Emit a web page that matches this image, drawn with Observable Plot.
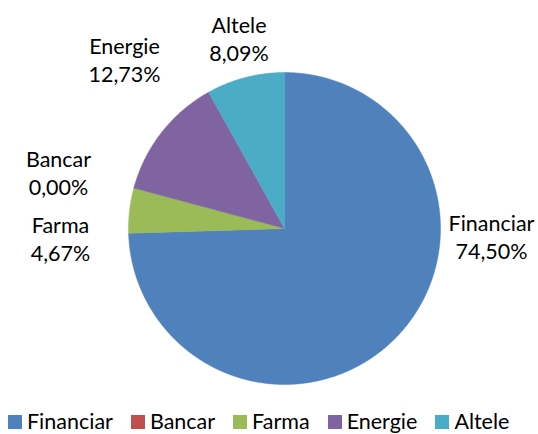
<!DOCTYPE html>
<html>
<head>
<meta charset="utf-8">
<script src="https://cdn.jsdelivr.net/npm/d3@7"></script>
<script src="https://cdn.jsdelivr.net/npm/@observablehq/plot@0.6"></script>
<style>
  html, body { margin: 0; padding: 0; background: #fff; }
  body { width: 538px; height: 434px; overflow: hidden; position: relative; font-family: Lato, "Open Sans", sans-serif; }
  #legend { position: absolute; left: 8px; top: 410px; display: flex; align-items: center; font-size: 21.5px; line-height: 22px; color: #000; white-space: nowrap; }
  .item { display: flex; align-items: center; margin-right: 18px; }
  .sw { width: 14px; height: 14px; margin-right: 5px; display: inline-block; position: relative; top: 1px; }
</style>
</head>
<body>
<div id="chart"></div>
<div id="legend"></div>
<script>
// ---- data ----
const categories = ["Financiar", "Bancar", "Farma", "Energie", "Altele"];
const shares = [74.50, 0.00, 4.67, 12.73, 8.09];
const shareLabels = ["74,50%", "0,00%", "4,67%", "12,73%", "8,09%"];
const colors = ["#4F81BD", "#C0504D", "#9BBB59", "#8064A2", "#4BACC6"];

// ---- layout (pixels) ----
const W = 538, H = 410, CX = 284, CY = 228, R = 156;
const labelPx = [[491, 211], [58, 147], [60, 213], [124, 34], [238.5, 13]];

// slice polygons derived from data through d3.pie (clockwise from 12 o'clock)
const pie = d3.pie().sort(null).value(d => d.v)(categories.map((c, i) => ({c, v: shares[i]})));
const pts = [];
pie.forEach(a => {
  if (a.endAngle - a.startAngle <= 0) return;
  const c = a.data.c;
  pts.push({c, x: 0, y: 0});
  const n = Math.max(2, Math.ceil((a.endAngle - a.startAngle) / 0.005));
  for (let k = 0; k <= n; k++) {
    const t = a.startAngle + (a.endAngle - a.startAngle) * k / n;
    pts.push({c, x: R * Math.sin(t), y: R * Math.cos(t)});
  }
  pts.push({c, x: 0, y: 0});
});

const labels = categories.map((c, i) => ({
  text: c + "\n" + shareLabels[i],
  x: labelPx[i][0] - CX,
  y: CY - labelPx[i][1]
}));

const chart = Plot.plot({
  width: W, height: H,
  margin: 0,
  x: {domain: [-CX, W - CX], range: [0, W], axis: null},
  y: {domain: [-(H - CY), CY], range: [H, 0], axis: null},
  color: {domain: categories, range: colors},
  style: {fontFamily: "Lato, 'Open Sans', sans-serif", background: "white"},
  marks: [
    Plot.line(pts, {x: "x", y: "y", z: "c", fill: "c", stroke: "c", strokeWidth: 0.5, curve: "linear"}),
    Plot.text(labels, {x: "x", y: "y", text: "text", fontSize: 21.5, lineAnchor: "top", lineHeight: 1.28, textAnchor: "middle", fill: "#000"})
  ]
});
document.getElementById("chart").appendChild(chart);

const lg = document.getElementById("legend");
categories.forEach((c, i) => {
  const it = document.createElement("div");
  it.className = "item";
  it.innerHTML = `<span class="sw" style="background:${colors[i]}"></span><span>${c}</span>`;
  lg.appendChild(it);
});
</script>
</body>
</html>
